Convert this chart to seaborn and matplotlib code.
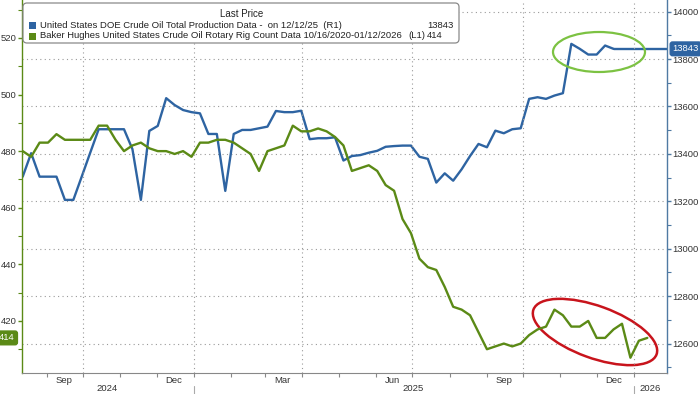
import numpy as np
import pandas as pd
import matplotlib
matplotlib.use("Agg")
import matplotlib.pyplot as plt
import matplotlib.dates as mdates
from matplotlib.patches import Ellipse, FancyBboxPatch, Rectangle
from matplotlib.ticker import MultipleLocator, FixedLocator, NullFormatter
from matplotlib.transforms import IdentityTransform, blended_transform_factory
import seaborn as sns

# weekly series
production = [13304, 13403, 13304, 13304, 13304, 13206, 13206, 13305, 13405, 13504,
              13504, 13504, 13504, 13420, 13206, 13497, 13518, 13635, 13606, 13585,
              13576, 13571, 13484, 13484, 13244, 13484, 13501, 13501, 13508, 13515,
              13581, 13576, 13576, 13582, 13462, 13466, 13466, 13470, 13372, 13391,
              13395, 13405, 13413, 13430, 13433, 13435, 13435, 13388, 13379, 13279,
              13318, 13287, 13335, 13391, 13442, 13428, 13498, 13487, 13504, 13508,
              13632, 13639, 13632, 13646, 13656, 13864, 13843, 13819, 13819, 13857,
              13843]
rig_count = [480, 478, 483, 483, 486, 484, 484, 484, 484, 489,
             489, 484, 480, 482, 483, 481, 480, 480, 479, 480,
             478, 483, 483, 484, 484, 483, 481, 479, 473, 480,
             481, 482, 489, 487, 487, 488, 487, 485, 482, 473,
             474, 475, 473, 468, 466, 456, 451, 442, 439, 438,
             432, 425, 424, 422, 416, 410, 411, 412, 411, 412,
             415, 417, 418, 424, 422, 418, 418, 420, 414, 414,
             417, 419, 407, 413, 414]
prod_dates = pd.date_range("2024-08-12", periods=len(production), freq="7D")
rig_dates = pd.date_range("2024-08-12", periods=len(rig_count), freq="7D")

month_ticks = ["2024-09-15", "2024-12-15", "2025-03-15", "2025-06-15", "2025-09-15", "2025-12-15"]
month_labels = ["Sep", "Dec", "Mar", "Jun", "Sep", "Dec"]
year_ticks = ["2024-10-21", "2025-07-02", "2026-01-14"]
year_labels = ["2024", "2025", "2026"]

prod_label = "United States DOE Crude Oil Total Production Data -  on 12/12/25  (R1)"
rig_label = "Baker Hughes United States Crude Oil Rotary Rig Count Data 10/16/2020-01/12/2026"

BLUE = "#2e64a2"
GREEN = "#5b8a16"
GRID = "#9a9a9a"
TXT = "#333333"

sns.set_theme(style="white")
plt.rcParams["font.family"] = ["Liberation Sans", "DejaVu Sans"]

fig = plt.figure(figsize=(7, 3.94), dpi=100)
ax = fig.add_axes([22 / 700, 21 / 394, 645 / 700, 373 / 394])
ax2 = ax.twinx()

x_left = pd.Timestamp("2024-08-11 10:00")
x_right = pd.Timestamp("2026-01-28 08:00")

# green on top of blue
ax.set_zorder(ax2.get_zorder() + 1)
ax.patch.set_visible(False)

sns.lineplot(x=prod_dates, y=production, ax=ax2, color=BLUE, linewidth=1.7)
ax2.plot([prod_dates[-1], x_right], [production[-1], production[-1]], color=BLUE, linewidth=1.7)
sns.lineplot(x=rig_dates, y=rig_count, ax=ax, color=GREEN, linewidth=1.7)

ax.set_xlim(x_left, x_right)
ax.set_ylim(401.6, 533.4)
ax2.set_ylim(12476, 14049)
ax.set_xlabel("")
ax.set_ylabel("")
ax2.set_ylabel("")

# y axes
ax.yaxis.set_minor_locator(MultipleLocator(10))
ax.set_yticks([420, 440, 460, 480, 500, 520])
ax2.yaxis.set_minor_locator(MultipleLocator(100))
ax2.set_yticks(range(12600, 14001, 200))
ax.tick_params(axis="y", which="major", direction="out", length=3, width=1, color=GREEN,
               labelsize=6.8, labelcolor=TXT, pad=1)
ax.tick_params(axis="y", which="minor", direction="out", length=3, width=0.8, color=GREEN, left=True)
ax2.tick_params(axis="y", which="major", direction="out", length=3, width=1, color="#4f7aa3",
                labelsize=6.8, labelcolor=TXT, pad=1)
ax2.tick_params(axis="y", which="minor", direction="out", length=3, width=0.8, color="#4f7aa3", right=True)
ax2.grid(axis="y", which="major", linestyle=(0, (1, 3)), color=GRID, linewidth=0.8)

# x axis: month tick marks, labels centred mid-month
ax.xaxis.set_major_locator(mdates.MonthLocator())
ax.xaxis.set_major_formatter(NullFormatter())
ax.xaxis.set_minor_locator(FixedLocator(mdates.date2num(pd.to_datetime(month_ticks))))
ax.xaxis.set_minor_formatter(plt.FixedFormatter(month_labels))
ax.tick_params(axis="x", which="major", direction="out", length=3, width=0.8, color="#888888", bottom=True)
ax.tick_params(axis="x", which="minor", length=0, labelsize=6.8, labelcolor=TXT, pad=2)
for q in pd.date_range("2024-10-01", "2026-01-01", freq="QS"):
    ax.axvline(q, color=GRID, linestyle=(0, (1, 3)), linewidth=0.8, zorder=0)

trans = blended_transform_factory(ax.transData, ax.transAxes)
for d, lab in zip(year_ticks, year_labels):
    ax.text(pd.Timestamp(d), -0.053, lab, transform=trans, ha="center", va="bottom",
            fontsize=6.8, color=TXT)
for d in ["2025-01-01", "2026-01-01"]:
    ax.plot([pd.Timestamp(d)] * 2, [-0.035, -0.06], transform=trans, color="#aaaaaa",
            linewidth=0.8, clip_on=False)

ax.spines["top"].set_visible(False)
ax2.spines["top"].set_visible(False)
ax.spines["left"].set_color(GREEN)
ax.spines["left"].set_linewidth(1)
ax2.spines["right"].set_color("#4f7aa3")
ax2.spines["right"].set_linewidth(1)
ax.spines["bottom"].set_color("#888888")
ax.spines["bottom"].set_linewidth(0.8)
ax2.spines["bottom"].set_visible(False)
ax2.spines["left"].set_visible(False)
ax.spines["right"].set_visible(False)

# last value tags
ax2.annotate(f"{production[-1]}", xy=(1, production[-1]),
             xycoords=blended_transform_factory(ax2.transAxes, ax2.transData),
             xytext=(4, 0), textcoords="offset points", ha="left", va="center",
             fontsize=6.8, color="white",
             bbox=dict(boxstyle="round,pad=0.25", fc=BLUE, ec=BLUE))
ax.annotate(f"{rig_count[-1]}", xy=(0, rig_count[-1]),
            xycoords=blended_transform_factory(ax.transAxes, ax.transData),
            xytext=(-5, 0), textcoords="offset points", ha="right", va="center",
            fontsize=6.8, color="white",
            bbox=dict(boxstyle="round,pad=0.25", fc=GREEN, ec=GREEN))

# highlight ellipses (pixel coords)
fig.add_artist(Ellipse((599, 342), 92, 40, angle=0, fill=False, ec="#7cc242",
                       linewidth=1.6, transform=IdentityTransform()))
fig.add_artist(Ellipse((595, 62), 131, 52, angle=-20, fill=False, ec="#c8141c",
                       linewidth=1.8, transform=IdentityTransform()))

# legend box
fig.add_artist(FancyBboxPatch((23, 351), 436, 40, boxstyle="round,pad=0,rounding_size=4",
                              fc="white", ec="#8a8a8a", linewidth=0.9,
                              transform=IdentityTransform(), zorder=5))
tr = IdentityTransform()
fig.text(242, 380, "Last Price", transform=tr, ha="center", va="center", fontsize=7,
         color="#222222", zorder=6)
for yy, col, lab, tag, val in [(369, BLUE, prod_label, "", f"{production[-1]}"),
                               (358, GREEN, rig_label, "(L1)", f"{rig_count[-1]}")]:
    fig.add_artist(Rectangle((29, yy - 3.5), 7, 7, fc=col, ec="none", transform=tr, zorder=6))
    fig.text(40, yy, lab, transform=tr, ha="left", va="center", fontsize=6.8,
             color="#222222", zorder=6)
    if tag:
        fig.text(408, yy, tag, transform=tr, ha="left", va="center", fontsize=6.8,
                 color="#222222", zorder=6)
    fig.text(427, yy, val, transform=tr, ha="left", va="center", fontsize=6.8,
             color="#222222", zorder=6)

fig.savefig("out.png", dpi=100)
